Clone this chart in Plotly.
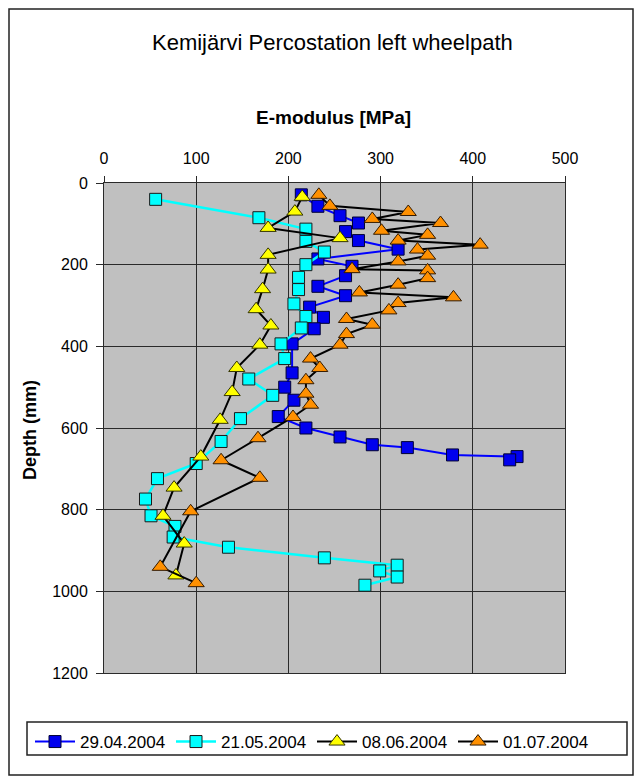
import plotly.graph_objects as go

# ---- data (E-modulus MPa, depth mm) ----
s1_name = "29.04.2004"
s1_e = [214, 232, 256, 276, 262, 276, 319, 232, 269, 262, 232, 262, 223, 238, 228, 204, 204, 196, 206, 189, 219, 256, 291, 329, 378, 448, 440]
s1_d = [29, 57, 80, 98, 119, 141, 162, 186, 204, 227, 253, 276, 304, 329, 357, 394, 465, 500, 532, 572, 600, 622, 641, 648, 666, 670, 678]

s2_name = "21.05.2004"
s2_e = [56, 168, 219, 219, 239, 219, 211, 211, 206, 219, 214, 192, 196, 157, 183, 148, 127, 100, 58, 45, 51, 77, 75, 135, 239, 318, 299, 318, 283]
s2_d = [40, 85, 113, 143, 169, 200, 231, 261, 296, 327, 355, 394, 430, 480, 520, 577, 633, 687, 724, 774, 815, 841, 867, 892, 918, 936, 950, 965, 985]

s3_name = "08.06.2004"
s3_e = [215, 207, 178, 256, 178, 178, 172, 165, 181, 169, 144, 139, 126, 105, 76, 64, 87, 78]
s3_d = [34, 70, 110, 135, 176, 212, 260, 309, 349, 396, 453, 512, 580, 670, 746, 815, 883, 961]

s4_name = "01.07.2004"
s4_e = [233, 245, 330, 291, 365, 301, 351, 319, 408, 340, 351, 319, 269, 351, 351, 319, 277, 379, 319, 309, 263, 291, 263, 256, 224, 234, 219, 219, 224, 205, 167, 127, 169, 94, 61, 100]
s4_d = [29, 56, 71, 88, 98, 117, 127, 141, 151, 163, 178, 192, 211, 214, 233, 249, 268, 280, 294, 312, 333, 347, 370, 396, 430, 453, 483, 516, 543, 573, 625, 679, 722, 804, 940, 980]

x_ticks = [0, 100, 200, 300, 400, 500]
y_ticks = [0, 200, 400, 600, 800, 1000, 1200]

FONT = "Liberation Sans, Arial, sans-serif"

# plot-area pixel geometry
L, R, T, B = 104, 565, 183, 673
W, H = 640, 780
def px(xp):
    return (xp - L) / (R - L)
def py(yp):
    return (B - yp) / (B - T)

fig = go.Figure()
fig.add_trace(go.Scatter(x=s1_e, y=s1_d, name=s1_name, mode="lines+markers",
                         line=dict(color="#0000FF", width=2),
                         marker=dict(symbol="square", size=12, color="#0000EE",
                                     line=dict(color="#000033", width=1))))
fig.add_trace(go.Scatter(x=s2_e, y=s2_d, name=s2_name, mode="lines+markers",
                         line=dict(color="#00FFFF", width=2.5),
                         marker=dict(symbol="square", size=12, color="#00FFFF",
                                     line=dict(color="#1a1a1a", width=1))))
fig.add_trace(go.Scatter(x=s3_e, y=s3_d, name=s3_name, mode="lines+markers",
                         line=dict(color="#000000", width=2),
                         marker=dict(symbol="triangle-up", size=14, color="#FFFF00",
                                     line=dict(color="#333300", width=1))))
fig.add_trace(go.Scatter(x=s4_e, y=s4_d, name=s4_name, mode="lines+markers",
                         line=dict(color="#000000", width=2),
                         marker=dict(symbol="triangle-up", size=14, color="#FF9000",
                                     line=dict(color="#331a00", width=1))))

fig.update_layout(
    width=W, height=H,
    margin=dict(l=L, r=W - R, t=T, b=H - B, autoexpand=False),
    paper_bgcolor="white",
    plot_bgcolor="#C0C0C0",
    font=dict(family=FONT, size=15, color="black"),
    showlegend=True,
    legend=dict(orientation="h", x=px(30), y=py(724), xanchor="left", yanchor="top",
                borderwidth=0, bgcolor="rgba(0,0,0,0)", font=dict(size=17, family=FONT),
                itemwidth=40, entrywidth=86, tracegroupgap=0),
    xaxis=dict(side="top", range=[0, 500], tickvals=x_ticks, ticktext=[str(v) for v in x_ticks],
               showgrid=True, gridcolor="#2a2a2a", gridwidth=1,
               showline=True, linecolor="#2a2a2a", linewidth=1, mirror=True,
               ticks="outside", ticklen=6, tickcolor="#2a2a2a", ticklabelstandoff=6,
               tickfont=dict(size=16), zeroline=False),
    yaxis=dict(range=[1200, 0], tickvals=y_ticks, ticktext=[str(v) for v in y_ticks],
               showgrid=True, gridcolor="#2a2a2a", gridwidth=1,
               showline=True, linecolor="#2a2a2a", linewidth=1, mirror=True,
               ticks="outside", ticklen=7, tickcolor="#2a2a2a", ticklabelstandoff=5,
               tickfont=dict(size=16), zeroline=False),
    annotations=[
        dict(text="Kemijärvi Percostation left wheelpath", xref="paper", yref="paper",
             x=px(332), y=py(42), xanchor="center", yanchor="middle", showarrow=False,
             font=dict(size=22, family=FONT)),
        dict(text="<b>E-modulus [MPa]</b>", xref="paper", yref="paper",
             x=px(333), y=py(118), xanchor="center", yanchor="middle", showarrow=False,
             font=dict(size=19, family=FONT)),
        dict(text="<b>Depth (mm)</b>", xref="paper", yref="paper",
             x=px(30), y=py(430), xanchor="center", yanchor="middle", showarrow=False,
             textangle=-90, font=dict(size=18, family=FONT)),
    ],
    shapes=[
        dict(type="rect", xref="paper", yref="paper",
             x0=px(9), x1=px(633), y0=py(775), y1=py(9),
             line=dict(color="#222222", width=1.5), fillcolor="rgba(0,0,0,0)", layer="below"),
        dict(type="rect", xref="paper", yref="paper",
             x0=px(27), x1=px(627), y0=py(755), y1=py(722),
             line=dict(color="#222222", width=1.5), fillcolor="rgba(0,0,0,0)", layer="below"),
    ],
)

fig.write_html("out.html", config={"displayModeBar": False},
               post_script="document.body.style.margin='0';document.body.style.padding='0';")
